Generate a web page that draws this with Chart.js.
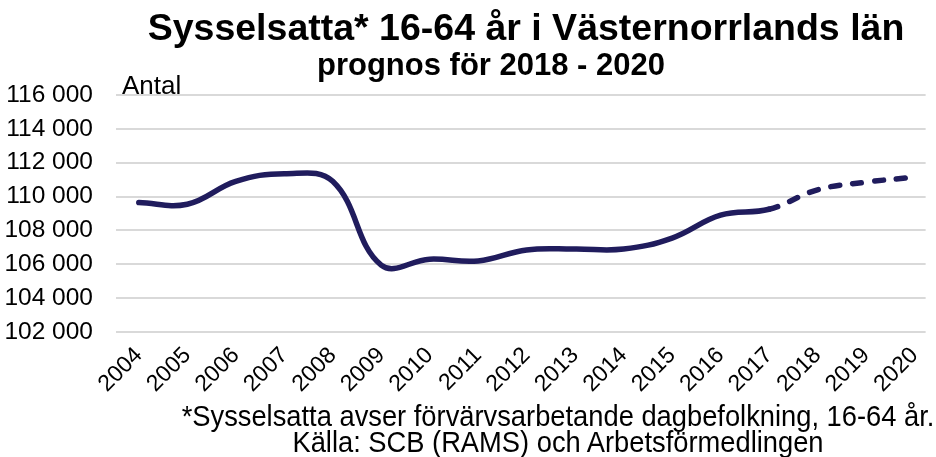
<!DOCTYPE html>
<html>
<head>
<meta charset="utf-8">
<script src="https://cdn.jsdelivr.net/npm/chart.js"></script>
<style>
  body { margin: 0; background: #fff; font-family: "Liberation Sans", Arial, sans-serif; }
  #wrap { position: relative; width: 936px; height: 457px; overflow: hidden; }
  .txt { position: absolute; white-space: nowrap; color: #000; line-height: 1; }
  .c { transform: translateX(-50%); }
  .foot { transform: translateX(-50%) scaleX(0.91); font-size: 30px; }
</style>
</head>
<body>
<div id="wrap">
  <canvas id="myChart" width="936" height="457"></canvas>
  <div class="txt c" style="left:526px; top:9px; font-size:37.5px; font-weight:bold;">Sysselsatta* 16-64 år i Västernorrlands län</div>
  <div class="txt c" style="left:491px; top:49px; font-size:31px; font-weight:bold;">prognos för 2018 - 2020</div>
  <div class="txt" style="left:122px; top:72px; font-size:26px;">Antal</div>
  <div class="txt foot" style="left:558px; top:401px;">*Sysselsatta avser förvärvsarbetande dagbefolkning, 16-64 år.</div>
  <div class="txt foot" style="left:558px; top:427px;">Källa: SCB (RAMS) och Arbetsförmedlingen</div>
</div>
<script>
// år och antal sysselsatta (2018-2020 är prognos)
const years = [2004, 2005, 2006, 2007, 2008, 2009, 2010, 2011, 2012, 2013, 2014, 2015, 2016, 2017, 2018, 2019, 2020]
const employed = [109650, 109550, 110900, 111350, 110900, 105950, 106300, 106200, 106850, 106900, 106900, 107550, 108900, 109250, 110400, 110850, 111150]
const forecastFrom = 2017
const yTicks = [102000, 104000, 106000, 108000, 110000, 112000, 114000, 116000]

const lineColor = '#201c5d'
const fmt = v => String(v).replace(/\B(?=(\d{3})+(?!\d))/g, ' ')

const config = {
  type: 'line',
  data: {
    datasets: [{
      data: years.map((y, i) => ({x: y, y: employed[i]})),
      borderColor: lineColor,
      borderWidth: 5.5,
      borderCapStyle: 'round',
      pointRadius: 0,
      tension: 0.4,
      segment: {
        borderDash: ctx => ctx.p0.parsed.x >= forecastFrom ? [9, 13] : undefined
      }
    }]
  },
  options: {
    responsive: false,
    animation: false,
    layout: {padding: {top: 95, right: 0, bottom: 0, left: 0}},
    plugins: {legend: {display: false}, tooltip: {enabled: false}},
    scales: {
      x: {
        type: 'linear',
        min: 2003.53,
        max: 2020.23,
        afterBuildTicks: s => { s.ticks = years.map(v => ({value: v})) },
        afterFit: s => { s.height = 125 },
        grid: {display: false},
        border: {display: false},
        ticks: {
          color: '#000',
          font: {family: 'Liberation Sans', size: 23},
          maxRotation: 45,
          minRotation: 45,
          padding: 2,
          callback: v => String(v)
        }
      },
      y: {
        min: 102000,
        max: 116000,
        afterBuildTicks: s => { s.ticks = yTicks.map(v => ({value: v})) },
        afterFit: s => { s.width = 116 },
        grid: {color: '#d9d9d9', lineWidth: 2, drawTicks: false},
        border: {display: false},
        ticks: {
          color: '#000',
          font: {family: 'Liberation Sans', size: 24.5},
          padding: 23,
          callback: v => fmt(v)
        }
      }
    }
  }
}
new Chart(document.getElementById('myChart'), config)
</script>
</body>
</html>
